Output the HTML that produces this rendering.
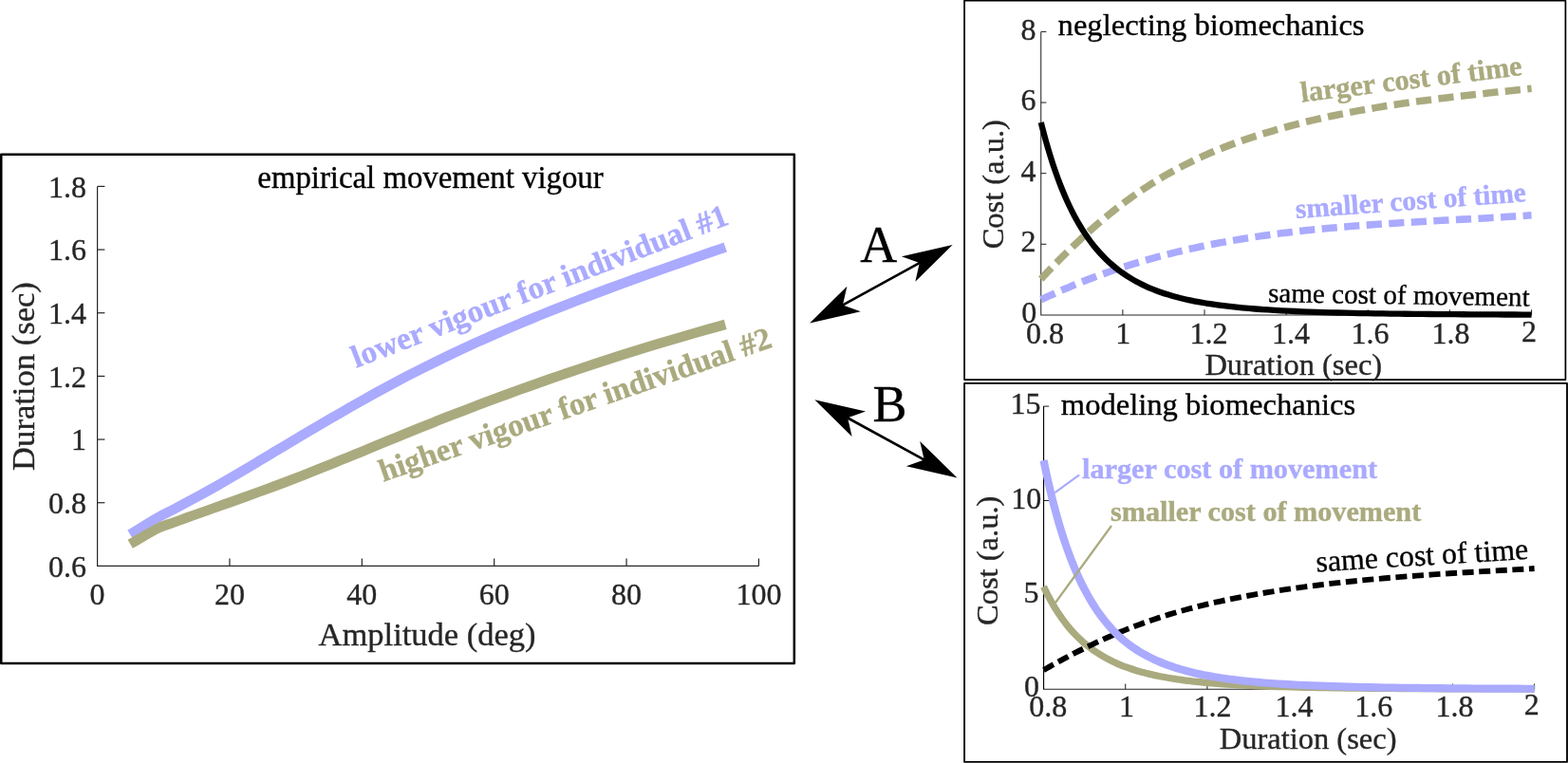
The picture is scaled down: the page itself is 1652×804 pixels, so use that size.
<!DOCTYPE html>
<html lang="en"><head><meta charset="utf-8"><title>Movement vigour and cost of time</title>
<style>
html,body{margin:0;padding:0;background:#fff;}
body{width:1652px;height:804px;overflow:hidden;}
svg{display:block;font-family:"Liberation Serif","DejaVu Serif",serif;}
svg text{white-space:pre;}
</style></head>
<body>
<svg width="1652" height="804" viewBox="0 0 1652 804">
<rect width="1652" height="804" fill="#fff"/>
<rect x="1.25" y="162.8" width="835.55" height="536.20" fill="none" stroke="#000" stroke-width="2.5" stroke-linejoin="round"/>
<rect x="1016.05" y="0.7" width="633.35" height="399.40" fill="none" stroke="#000" stroke-width="1.75" stroke-linejoin="round"/>
<rect x="1016.05" y="403.9" width="634.95" height="399.00" fill="none" stroke="#000" stroke-width="1.85" stroke-linejoin="round"/>
<path d="M102.6,196.4 L102.6,596.4 L799.4,596.4" fill="none" stroke="#262626" stroke-width="1.2"/>
<text x="102.6" y="637.4" font-size="32" text-anchor="middle" font-weight="normal" fill="#262626" stroke="#262626" stroke-width="0.35">0</text>
<path d="M241.96,596.4 L241.96,588.6" stroke="#262626" stroke-width="1.2"/>
<text x="241.96" y="637.4" font-size="32" text-anchor="middle" font-weight="normal" fill="#262626" stroke="#262626" stroke-width="0.35">20</text>
<path d="M381.32,596.4 L381.32,588.6" stroke="#262626" stroke-width="1.2"/>
<text x="381.32" y="637.4" font-size="32" text-anchor="middle" font-weight="normal" fill="#262626" stroke="#262626" stroke-width="0.35">40</text>
<path d="M520.68,596.4 L520.68,588.6" stroke="#262626" stroke-width="1.2"/>
<text x="520.68" y="637.4" font-size="32" text-anchor="middle" font-weight="normal" fill="#262626" stroke="#262626" stroke-width="0.35">60</text>
<path d="M660.04,596.4 L660.04,588.6" stroke="#262626" stroke-width="1.2"/>
<text x="660.04" y="637.4" font-size="32" text-anchor="middle" font-weight="normal" fill="#262626" stroke="#262626" stroke-width="0.35">80</text>
<path d="M799.40,596.4 L799.40,588.6" stroke="#262626" stroke-width="1.2"/>
<text x="799.4" y="637.4" font-size="32" text-anchor="middle" font-weight="normal" fill="#262626" stroke="#262626" stroke-width="0.35">100</text>
<text x="91" y="607.6" font-size="32" text-anchor="end" font-weight="normal" fill="#262626" stroke="#262626" stroke-width="0.35">0.6</text>
<path d="M102.6,529.73 L110.39999999999999,529.73" stroke="#262626" stroke-width="1.2"/>
<text x="91" y="540.93" font-size="32" text-anchor="end" font-weight="normal" fill="#262626" stroke="#262626" stroke-width="0.35">0.8</text>
<path d="M102.6,463.07 L110.39999999999999,463.07" stroke="#262626" stroke-width="1.2"/>
<text x="91" y="474.27" font-size="32" text-anchor="end" font-weight="normal" fill="#262626" stroke="#262626" stroke-width="0.35">1</text>
<path d="M102.6,396.40 L110.39999999999999,396.40" stroke="#262626" stroke-width="1.2"/>
<text x="91" y="407.6" font-size="32" text-anchor="end" font-weight="normal" fill="#262626" stroke="#262626" stroke-width="0.35">1.2</text>
<path d="M102.6,329.73 L110.39999999999999,329.73" stroke="#262626" stroke-width="1.2"/>
<text x="91" y="340.93" font-size="32" text-anchor="end" font-weight="normal" fill="#262626" stroke="#262626" stroke-width="0.35">1.4</text>
<path d="M102.6,263.07 L110.39999999999999,263.07" stroke="#262626" stroke-width="1.2"/>
<text x="91" y="274.27" font-size="32" text-anchor="end" font-weight="normal" fill="#262626" stroke="#262626" stroke-width="0.35">1.6</text>
<path d="M102.6,196.40 L110.39999999999999,196.40" stroke="#262626" stroke-width="1.2"/>
<text x="91" y="207.6" font-size="32" text-anchor="end" font-weight="normal" fill="#262626" stroke="#262626" stroke-width="0.35">1.8</text>
<text x="450.1" y="680" font-size="34.5" text-anchor="middle" font-weight="normal" fill="#262626" stroke="#262626" stroke-width="0.35">Amplitude (deg)</text>
<text x="36" y="396.5" font-size="34.6" text-anchor="middle" font-weight="normal" fill="#262626" stroke="#262626" stroke-width="0.35" transform="rotate(-90 36 396.5)">Duration (sec)</text>
<text x="453.5" y="198" font-size="32.8" text-anchor="middle" font-weight="normal" fill="#000" stroke="#000" stroke-width="0.35">empirical movement vigour</text>
<path d="M137.00,563.10C146.67,557.24 158.61,549.78 166.00,545.53C173.39,541.27 176.23,540.25 181.34,537.57C186.45,534.89 191.56,532.18 196.68,529.43C201.79,526.69 206.90,523.92 212.02,521.11C217.13,518.30 222.24,515.45 227.35,512.57C232.47,509.69 237.58,506.77 242.69,503.81C247.81,500.85 252.92,497.84 258.03,494.81C263.14,491.78 268.26,488.70 273.37,485.62C278.48,482.55 283.59,479.44 288.71,476.36C293.82,473.28 298.93,470.19 304.05,467.13C309.16,464.07 314.27,461.03 319.38,458.00C324.50,454.98 329.61,451.97 334.72,448.98C339.84,445.98 344.95,443.01 350.06,440.04C355.17,437.08 360.29,434.12 365.40,431.19C370.51,428.26 375.63,425.34 380.74,422.47C385.85,419.59 390.96,416.73 396.08,413.91C401.19,411.10 406.30,408.32 411.42,405.58C416.53,402.84 421.64,400.14 426.75,397.48C431.87,394.82 436.98,392.20 442.09,389.61C447.21,387.02 452.32,384.47 457.43,381.96C462.54,379.44 467.66,376.97 472.77,374.52C477.88,372.08 482.99,369.67 488.11,367.29C493.22,364.91 498.33,362.57 503.45,360.25C508.56,357.94 513.67,355.66 518.78,353.40C523.90,351.15 529.01,348.92 534.12,346.73C539.24,344.53 544.35,342.36 549.46,340.21C554.57,338.07 559.69,335.95 564.80,333.85C569.91,331.76 575.03,329.69 580.14,327.64C585.25,325.59 590.36,323.56 595.48,321.56C600.59,319.55 605.70,317.56 610.82,315.60C615.93,313.63 621.04,311.68 626.15,309.75C631.27,307.82 636.38,305.91 641.49,304.01C646.61,302.11 651.72,300.23 656.83,298.36C661.94,296.49 667.06,294.63 672.17,292.79C677.28,290.94 682.39,289.11 687.51,287.29C692.62,285.47 697.73,283.66 702.85,281.86C707.96,280.05 713.07,278.26 718.18,276.47C723.30,274.69 728.41,272.91 733.52,271.13C738.64,269.36 743.75,267.59 748.86,265.82C753.97,264.06 759.09,262.30 764.20,260.53" fill="none" stroke="#aaaaff" stroke-width="10.5" stroke-linejoin="round"/>
<path d="M137.20,573.30C146.80,567.82 158.64,560.56 166.00,556.87C173.36,553.18 176.23,553.03 181.34,551.15C186.45,549.26 191.56,547.41 196.68,545.56C201.79,543.72 206.90,541.90 212.02,540.07C217.13,538.25 222.24,536.45 227.35,534.63C232.47,532.82 237.58,531.02 242.69,529.20C247.81,527.38 252.92,525.56 258.03,523.72C263.14,521.89 268.26,520.04 273.37,518.17C278.48,516.30 283.59,514.42 288.71,512.51C293.82,510.61 298.93,508.68 304.05,506.72C309.16,504.76 314.27,502.78 319.38,500.78C324.50,498.78 329.61,496.75 334.72,494.71C339.84,492.67 344.95,490.61 350.06,488.54C355.17,486.48 360.29,484.39 365.40,482.31C370.51,480.22 375.63,478.12 380.74,476.02C385.85,473.92 390.96,471.81 396.08,469.71C401.19,467.61 406.30,465.50 411.42,463.40C416.53,461.31 421.64,459.21 426.75,457.13C431.87,455.05 436.98,452.97 442.09,450.91C447.21,448.85 452.32,446.80 457.43,444.77C462.54,442.74 467.66,440.73 472.77,438.73C477.88,436.73 482.99,434.75 488.11,432.78C493.22,430.81 498.33,428.86 503.45,426.93C508.56,424.99 513.67,423.07 518.78,421.17C523.90,419.26 529.01,417.37 534.12,415.50C539.24,413.63 544.35,411.77 549.46,409.93C554.57,408.09 559.69,406.27 564.80,404.46C569.91,402.65 575.03,400.86 580.14,399.08C585.25,397.30 590.36,395.54 595.48,393.79C600.59,392.05 605.70,390.32 610.82,388.60C615.93,386.89 621.04,385.19 626.15,383.51C631.27,381.82 636.38,380.16 641.49,378.51C646.61,376.85 651.72,375.22 656.83,373.60C661.94,371.98 667.06,370.38 672.17,368.79C677.28,367.20 682.39,365.63 687.51,364.07C692.62,362.51 697.73,360.97 702.85,359.45C707.96,357.92 713.07,356.41 718.18,354.92C723.30,353.43 728.41,351.95 733.52,350.49C738.64,349.03 743.75,347.58 748.86,346.15C753.97,344.72 759.09,343.32 764.20,341.91" fill="none" stroke="#aaaa7f" stroke-width="10.5" stroke-linejoin="round"/>
<text x="375.3" y="387.8" font-size="33.2" text-anchor="start" font-weight="bold" fill="#aaaaff" stroke="#aaaaff" stroke-width="0.4" transform="rotate(-21.1 375.3 387.8)">lower vigour for individual #1</text>
<text x="403.7" y="507.8" font-size="33.2" text-anchor="start" font-weight="bold" fill="#aaaa7f" stroke="#aaaa7f" stroke-width="0.4" transform="rotate(-19.1 403.7 507.8)">higher vigour for individual #2</text>
<path d="M884.43,323.33 L972.27,275.17" stroke="#000" stroke-width="2.7"/>
<path d="M1003.60,258.00 L964.34,296.63 L968.79,277.08 L949.91,270.32 Z" fill="#000"/>
<path d="M853.10,340.50 L906.79,328.18 L887.91,321.42 L892.36,301.87 Z" fill="#000"/>
<path d="M889.64,438.45 L977.16,486.35" stroke="#000" stroke-width="2.7"/>
<path d="M1008.50,503.50 L954.81,491.21 L973.67,484.44 L969.21,464.90 Z" fill="#000"/>
<path d="M858.30,421.30 L897.59,459.90 L893.13,440.36 L911.99,433.59 Z" fill="#000"/>
<text x="925.7" y="276.1" font-size="54" text-anchor="middle" font-weight="normal" fill="#000" stroke="#000" stroke-width="0.35">A</text>
<text x="937.5" y="444.3" font-size="54" text-anchor="middle" font-weight="normal" fill="#000" stroke="#000" stroke-width="0.35">B</text>
<path d="M1096.75,33.4 L1096.75,331.95 L1613.55,331.95" fill="none" stroke="#262626" stroke-width="1.05"/>
<text x="1101.1" y="361.7" font-size="32" text-anchor="middle" font-weight="normal" fill="#262626" stroke="#262626" stroke-width="0.35">0.8</text>
<path d="M1182.88,331.95 L1182.88,326.34999999999997" stroke="#262626" stroke-width="1.05"/>
<text x="1183.2" y="361.7" font-size="32" text-anchor="middle" font-weight="normal" fill="#262626" stroke="#262626" stroke-width="0.35">1</text>
<path d="M1269.02,331.95 L1269.02,326.34999999999997" stroke="#262626" stroke-width="1.05"/>
<text x="1273.4" y="361.7" font-size="32" text-anchor="middle" font-weight="normal" fill="#262626" stroke="#262626" stroke-width="0.35">1.2</text>
<path d="M1355.15,331.95 L1355.15,326.34999999999997" stroke="#262626" stroke-width="1.05"/>
<text x="1360.0" y="361.7" font-size="32" text-anchor="middle" font-weight="normal" fill="#262626" stroke="#262626" stroke-width="0.35">1.4</text>
<path d="M1441.28,331.95 L1441.28,326.34999999999997" stroke="#262626" stroke-width="1.05"/>
<text x="1443.4" y="361.7" font-size="32" text-anchor="middle" font-weight="normal" fill="#262626" stroke="#262626" stroke-width="0.35">1.6</text>
<path d="M1527.42,331.95 L1527.42,326.34999999999997" stroke="#262626" stroke-width="1.05"/>
<text x="1528.6" y="361.7" font-size="32" text-anchor="middle" font-weight="normal" fill="#262626" stroke="#262626" stroke-width="0.35">1.8</text>
<path d="M1613.55,331.95 L1613.55,326.34999999999997" stroke="#262626" stroke-width="1.05"/>
<text x="1611.1" y="359.7" font-size="32" text-anchor="middle" font-weight="normal" fill="#262626" stroke="#262626" stroke-width="0.35">2</text>
<text x="1092.35" y="340.05" font-size="32" text-anchor="end" font-weight="normal" fill="#262626" stroke="#262626" stroke-width="0.35">0</text>
<path d="M1096.75,257.31 L1102.35,257.31" stroke="#262626" stroke-width="1.05"/>
<text x="1091.6" y="265.41" font-size="32" text-anchor="end" font-weight="normal" fill="#262626" stroke="#262626" stroke-width="0.35">2</text>
<path d="M1096.75,182.67 L1102.35,182.67" stroke="#262626" stroke-width="1.05"/>
<text x="1091.6" y="190.77" font-size="32" text-anchor="end" font-weight="normal" fill="#262626" stroke="#262626" stroke-width="0.35">4</text>
<path d="M1096.75,108.04 L1102.35,108.04" stroke="#262626" stroke-width="1.05"/>
<text x="1091.6" y="116.14" font-size="32" text-anchor="end" font-weight="normal" fill="#262626" stroke="#262626" stroke-width="0.35">6</text>
<path d="M1096.75,33.40 L1102.35,33.40" stroke="#262626" stroke-width="1.05"/>
<text x="1091.6" y="41.5" font-size="32" text-anchor="end" font-weight="normal" fill="#262626" stroke="#262626" stroke-width="0.35">8</text>
<text x="1114.6" y="36.7" font-size="32.6" text-anchor="start" font-weight="normal" fill="#000" stroke="#000" stroke-width="0.35">neglecting biomechanics</text>
<text x="1362.8" y="395.3" font-size="32.5" text-anchor="middle" font-weight="normal" fill="#262626" stroke="#262626" stroke-width="0.35">Duration (sec)</text>
<text x="1057.4" y="194.2" font-size="32.5" text-anchor="middle" font-weight="normal" fill="#262626" stroke="#262626" stroke-width="0.35" transform="rotate(-90 1057.4 194.2)">Cost (a.u.)</text>
<path d="M1096.75,294.11C1096.88,293.97 1096.94,293.90 1097.14,293.69C1097.34,293.47 1097.63,293.16 1097.94,292.82C1098.26,292.48 1098.63,292.08 1099.03,291.65C1099.43,291.21 1099.88,290.73 1100.36,290.22C1100.84,289.70 1101.36,289.14 1101.91,288.56C1102.46,287.97 1103.04,287.35 1103.66,286.70C1104.27,286.05 1104.92,285.36 1105.59,284.66C1106.26,283.95 1106.97,283.21 1107.70,282.45C1108.42,281.68 1109.18,280.89 1109.97,280.08C1110.75,279.27 1111.56,278.44 1112.39,277.58C1113.23,276.72 1114.09,275.84 1114.97,274.94C1115.85,274.05 1116.76,273.13 1117.69,272.19C1118.62,271.25 1119.58,270.30 1120.55,269.32C1121.53,268.35 1122.53,267.36 1123.55,266.36C1124.57,265.35 1125.61,264.33 1126.68,263.29C1127.74,262.26 1128.83,261.21 1129.93,260.15C1131.04,259.09 1132.16,258.01 1133.31,256.92C1134.46,255.84 1135.63,254.74 1136.81,253.63C1138.00,252.52 1139.21,251.40 1140.43,250.28C1141.66,249.15 1142.90,248.01 1144.17,246.87C1145.43,245.72 1146.72,244.57 1148.02,243.41C1149.32,242.25 1150.64,241.08 1151.98,239.91C1153.32,238.74 1154.68,237.56 1156.05,236.38C1157.43,235.20 1158.82,234.01 1160.23,232.82C1161.64,231.64 1163.07,230.44 1164.51,229.25C1165.96,228.05 1167.42,226.86 1168.90,225.66C1170.38,224.46 1171.88,223.26 1173.39,222.07C1174.91,220.87 1176.44,219.67 1177.99,218.47C1179.53,217.28 1181.10,216.08 1182.68,214.89C1184.26,213.69 1185.86,212.50 1187.47,211.32C1189.08,210.13 1190.71,208.94 1192.35,207.77C1194.00,206.59 1195.66,205.41 1197.34,204.24C1199.01,203.08 1200.70,201.91 1202.41,200.76C1204.12,199.60 1205.84,198.45 1207.58,197.31C1209.32,196.17 1211.07,195.04 1212.84,193.91C1214.61,192.79 1216.40,191.67 1218.20,190.57C1219.99,189.46 1221.81,188.37 1223.64,187.28C1225.47,186.19 1227.31,185.11 1229.17,184.05C1231.03,182.98 1232.90,181.92 1234.79,180.88C1236.68,179.83 1238.58,178.80 1240.50,177.77C1242.41,176.75 1244.34,175.73 1246.29,174.73C1248.23,173.73 1250.19,172.74 1252.17,171.76C1254.14,170.78 1256.13,169.81 1258.13,168.85C1260.13,167.90 1262.15,166.95 1264.18,166.02C1266.21,165.08 1268.25,164.16 1270.31,163.25C1272.36,162.34 1274.43,161.44 1276.52,160.56C1278.60,159.67 1280.70,158.79 1282.81,157.93C1284.92,157.07 1287.05,156.21 1289.19,155.37C1291.32,154.53 1293.47,153.70 1295.64,152.89C1297.80,152.07 1299.98,151.26 1302.17,150.47C1304.36,149.67 1306.57,148.89 1308.79,148.11C1311.00,147.34 1313.23,146.57 1315.48,145.82C1317.72,145.07 1319.98,144.32 1322.25,143.59C1324.52,142.86 1326.80,142.13 1329.09,141.42C1331.39,140.70 1333.69,140.00 1336.01,139.30C1338.33,138.60 1340.67,137.92 1343.01,137.24C1345.36,136.56 1347.72,135.88 1350.09,135.22C1352.46,134.56 1354.84,133.90 1357.24,133.26C1359.63,132.61 1362.04,131.97 1364.46,131.35C1366.88,130.72 1369.31,130.10 1371.75,129.48C1374.20,128.87 1376.66,128.27 1379.12,127.67C1381.59,127.08 1384.07,126.49 1386.57,125.92C1389.06,125.34 1391.57,124.77 1394.08,124.21C1396.60,123.65 1399.13,123.10 1401.67,122.55C1404.21,122.01 1406.76,121.47 1409.33,120.94C1411.89,120.42 1414.47,119.90 1417.06,119.39C1419.65,118.87 1422.25,118.37 1424.86,117.88C1427.47,117.38 1430.09,116.89 1432.73,116.41C1435.36,115.94 1438.01,115.46 1440.67,115.00C1443.33,114.53 1446.00,114.08 1448.68,113.63C1451.36,113.18 1454.05,112.74 1456.76,112.30C1459.46,111.87 1462.18,111.44 1464.90,111.02C1467.63,110.59 1470.37,110.18 1473.12,109.77C1475.87,109.36 1478.63,108.96 1481.40,108.56C1484.18,108.17 1486.96,107.78 1489.75,107.39C1492.55,107.01 1495.35,106.63 1498.17,106.25C1500.99,105.88 1503.82,105.51 1506.66,105.15C1509.49,104.78 1512.34,104.43 1515.21,104.07C1518.07,103.72 1520.94,103.37 1523.82,103.02C1526.71,102.67 1529.60,102.33 1532.51,101.99C1535.41,101.65 1538.33,101.32 1541.25,100.98C1544.18,100.65 1547.12,100.32 1550.07,99.99C1553.01,99.67 1555.97,99.34 1558.94,99.02C1561.91,98.69 1564.89,98.37 1567.88,98.05C1570.88,97.73 1573.88,97.41 1576.89,97.09C1579.90,96.77 1582.93,96.45 1585.96,96.13C1588.99,95.81 1592.04,95.49 1595.09,95.16C1598.15,94.84 1601.21,94.52 1604.29,94.19C1607.37,93.87 1610.46,93.54 1613.55,93.21" fill="none" stroke="#aaaa7f" stroke-width="7.55" stroke-dasharray="16.2 7.4"/>
<path d="M1096.75,315.80C1096.88,315.74 1096.94,315.71 1097.14,315.62C1097.34,315.52 1097.63,315.39 1097.94,315.24C1098.26,315.09 1098.63,314.91 1099.03,314.72C1099.43,314.53 1099.88,314.32 1100.36,314.10C1100.84,313.87 1101.36,313.63 1101.91,313.37C1102.46,313.12 1103.04,312.84 1103.66,312.56C1104.27,312.28 1104.92,311.98 1105.59,311.67C1106.26,311.36 1106.97,311.04 1107.70,310.71C1108.42,310.38 1109.18,310.03 1109.97,309.68C1110.75,309.33 1111.56,308.96 1112.39,308.59C1113.23,308.22 1114.09,307.84 1114.97,307.45C1115.85,307.06 1116.76,306.66 1117.69,306.26C1118.62,305.85 1119.58,305.44 1120.55,305.02C1121.53,304.60 1122.53,304.17 1123.55,303.74C1124.57,303.30 1125.61,302.86 1126.68,302.42C1127.74,301.97 1128.83,301.52 1129.93,301.06C1131.04,300.60 1132.16,300.14 1133.31,299.67C1134.46,299.21 1135.63,298.73 1136.81,298.26C1138.00,297.78 1139.21,297.30 1140.43,296.82C1141.66,296.33 1142.90,295.85 1144.17,295.36C1145.43,294.87 1146.72,294.37 1148.02,293.88C1149.32,293.38 1150.64,292.88 1151.98,292.38C1153.32,291.88 1154.68,291.37 1156.05,290.87C1157.43,290.36 1158.82,289.86 1160.23,289.35C1161.64,288.84 1163.07,288.33 1164.51,287.82C1165.96,287.31 1167.42,286.80 1168.90,286.28C1170.38,285.77 1171.88,285.26 1173.39,284.75C1174.91,284.23 1176.44,283.72 1177.99,283.21C1179.53,282.69 1181.10,282.18 1182.68,281.67C1184.26,281.16 1185.86,280.65 1187.47,280.13C1189.08,279.62 1190.71,279.11 1192.35,278.61C1194.00,278.10 1195.66,277.59 1197.34,277.09C1199.01,276.58 1200.70,276.08 1202.41,275.57C1204.12,275.07 1205.84,274.57 1207.58,274.07C1209.32,273.58 1211.07,273.08 1212.84,272.59C1214.61,272.10 1216.40,271.60 1218.20,271.12C1219.99,270.63 1221.81,270.14 1223.64,269.66C1225.47,269.18 1227.31,268.70 1229.17,268.22C1231.03,267.75 1232.90,267.28 1234.79,266.81C1236.68,266.34 1238.58,265.87 1240.50,265.41C1242.41,264.95 1244.34,264.49 1246.29,264.04C1248.23,263.58 1250.19,263.13 1252.17,262.69C1254.14,262.24 1256.13,261.80 1258.13,261.36C1260.13,260.92 1262.15,260.49 1264.18,260.06C1266.21,259.63 1268.25,259.21 1270.31,258.79C1272.36,258.37 1274.43,257.95 1276.52,257.54C1278.60,257.13 1280.70,256.72 1282.81,256.32C1284.92,255.92 1287.05,255.53 1289.19,255.14C1291.32,254.74 1293.47,254.36 1295.64,253.98C1297.80,253.60 1299.98,253.22 1302.17,252.85C1304.36,252.48 1306.57,252.11 1308.79,251.75C1311.00,251.39 1313.23,251.03 1315.48,250.68C1317.72,250.33 1319.98,249.99 1322.25,249.65C1324.52,249.31 1326.80,248.97 1329.09,248.64C1331.39,248.31 1333.69,247.99 1336.01,247.67C1338.33,247.35 1340.67,247.04 1343.01,246.73C1345.36,246.42 1347.72,246.11 1350.09,245.82C1352.46,245.52 1354.84,245.22 1357.24,244.94C1359.63,244.65 1362.04,244.36 1364.46,244.09C1366.88,243.81 1369.31,243.53 1371.75,243.27C1374.20,243.00 1376.66,242.73 1379.12,242.48C1381.59,242.22 1384.07,241.96 1386.57,241.71C1389.06,241.47 1391.57,241.22 1394.08,240.98C1396.60,240.74 1399.13,240.51 1401.67,240.28C1404.21,240.04 1406.76,239.82 1409.33,239.60C1411.89,239.37 1414.47,239.16 1417.06,238.94C1419.65,238.73 1422.25,238.52 1424.86,238.31C1427.47,238.11 1430.09,237.91 1432.73,237.71C1435.36,237.51 1438.01,237.31 1440.67,237.12C1443.33,236.93 1446.00,236.74 1448.68,236.56C1451.36,236.37 1454.05,236.19 1456.76,236.01C1459.46,235.83 1462.18,235.66 1464.90,235.48C1467.63,235.31 1470.37,235.14 1473.12,234.97C1475.87,234.80 1478.63,234.64 1481.40,234.47C1484.18,234.31 1486.96,234.14 1489.75,233.98C1492.55,233.82 1495.35,233.66 1498.17,233.50C1500.99,233.34 1503.82,233.18 1506.66,233.03C1509.49,232.87 1512.34,232.71 1515.21,232.56C1518.07,232.40 1520.94,232.24 1523.82,232.09C1526.71,231.93 1529.60,231.77 1532.51,231.62C1535.41,231.46 1538.33,231.30 1541.25,231.14C1544.18,230.98 1547.12,230.82 1550.07,230.66C1553.01,230.50 1555.97,230.34 1558.94,230.17C1561.91,230.01 1564.89,229.84 1567.88,229.67C1570.88,229.50 1573.88,229.32 1576.89,229.15C1579.90,228.97 1582.93,228.79 1585.96,228.60C1588.99,228.42 1592.04,228.23 1595.09,228.04C1598.15,227.85 1601.21,227.65 1604.29,227.45C1607.37,227.24 1610.46,227.03 1613.55,226.82" fill="none" stroke="#aaaaff" stroke-width="7.55" stroke-dasharray="16.2 7.4"/>
<path d="M1096.75,128.95C1096.88,129.48 1096.94,129.74 1097.14,130.52C1097.34,131.31 1097.63,132.45 1097.94,133.68C1098.26,134.90 1098.63,136.34 1099.03,137.88C1099.43,139.41 1099.88,141.11 1100.36,142.89C1100.84,144.66 1101.36,146.57 1101.91,148.53C1102.46,150.49 1103.04,152.56 1103.66,154.67C1104.27,156.77 1104.92,158.96 1105.59,161.18C1106.26,163.39 1106.97,165.67 1107.70,167.96C1108.42,170.26 1109.18,172.59 1109.97,174.94C1110.75,177.28 1111.56,179.65 1112.39,182.02C1113.23,184.39 1114.09,186.77 1114.97,189.14C1115.85,191.51 1116.76,193.89 1117.69,196.25C1118.62,198.60 1119.58,200.96 1120.55,203.28C1121.53,205.61 1122.53,207.93 1123.55,210.21C1124.57,212.49 1125.61,214.76 1126.68,216.99C1127.74,219.22 1128.83,221.42 1129.93,223.59C1131.04,225.76 1132.16,227.89 1133.31,229.99C1134.46,232.08 1135.63,234.15 1136.81,236.16C1138.00,238.18 1139.21,240.17 1140.43,242.11C1141.66,244.04 1142.90,245.94 1144.17,247.80C1145.43,249.65 1146.72,251.47 1148.02,253.24C1149.32,255.01 1150.64,256.74 1151.98,258.42C1153.32,260.10 1154.68,261.74 1156.05,263.34C1157.43,264.94 1158.82,266.49 1160.23,268.01C1161.64,269.52 1163.07,270.99 1164.51,272.41C1165.96,273.84 1167.42,275.23 1168.90,276.57C1170.38,277.92 1171.88,279.22 1173.39,280.49C1174.91,281.76 1176.44,282.98 1177.99,284.17C1179.53,285.36 1181.10,286.51 1182.68,287.62C1184.26,288.74 1185.86,289.81 1187.47,290.86C1189.08,291.90 1190.71,292.91 1192.35,293.88C1194.00,294.85 1195.66,295.79 1197.34,296.70C1199.01,297.61 1200.70,298.49 1202.41,299.34C1204.12,300.18 1205.84,301.00 1207.58,301.79C1209.32,302.58 1211.07,303.34 1212.84,304.07C1214.61,304.81 1216.40,305.51 1218.20,306.19C1219.99,306.88 1221.81,307.53 1223.64,308.16C1225.47,308.80 1227.31,309.40 1229.17,309.99C1231.03,310.58 1232.90,311.14 1234.79,311.68C1236.68,312.23 1238.58,312.75 1240.50,313.25C1242.41,313.76 1244.34,314.24 1246.29,314.71C1248.23,315.17 1250.19,315.62 1252.17,316.05C1254.14,316.48 1256.13,316.89 1258.13,317.29C1260.13,317.69 1262.15,318.07 1264.18,318.44C1266.21,318.81 1268.25,319.16 1270.31,319.50C1272.36,319.84 1274.43,320.16 1276.52,320.47C1278.60,320.79 1280.70,321.09 1282.81,321.38C1284.92,321.67 1287.05,321.94 1289.19,322.21C1291.32,322.47 1293.47,322.73 1295.64,322.97C1297.80,323.22 1299.98,323.46 1302.17,323.68C1304.36,323.91 1306.57,324.12 1308.79,324.33C1311.00,324.54 1313.23,324.74 1315.48,324.93C1317.72,325.13 1319.98,325.31 1322.25,325.49C1324.52,325.66 1326.80,325.83 1329.09,325.99C1331.39,326.16 1333.69,326.31 1336.01,326.46C1338.33,326.61 1340.67,326.76 1343.01,326.89C1345.36,327.03 1347.72,327.16 1350.09,327.29C1352.46,327.42 1354.84,327.54 1357.24,327.66C1359.63,327.77 1362.04,327.88 1364.46,327.99C1366.88,328.10 1369.31,328.20 1371.75,328.30C1374.20,328.40 1376.66,328.50 1379.12,328.59C1381.59,328.68 1384.07,328.76 1386.57,328.85C1389.06,328.93 1391.57,329.01 1394.08,329.09C1396.60,329.17 1399.13,329.24 1401.67,329.31C1404.21,329.38 1406.76,329.45 1409.33,329.52C1411.89,329.58 1414.47,329.64 1417.06,329.70C1419.65,329.76 1422.25,329.82 1424.86,329.88C1427.47,329.93 1430.09,329.99 1432.73,330.04C1435.36,330.09 1438.01,330.14 1440.67,330.18C1443.33,330.23 1446.00,330.28 1448.68,330.32C1451.36,330.36 1454.05,330.40 1456.76,330.44C1459.46,330.48 1462.18,330.52 1464.90,330.56C1467.63,330.59 1470.37,330.63 1473.12,330.66C1475.87,330.70 1478.63,330.73 1481.40,330.76C1484.18,330.79 1486.96,330.82 1489.75,330.85C1492.55,330.88 1495.35,330.91 1498.17,330.93C1500.99,330.96 1503.82,330.98 1506.66,331.01C1509.49,331.03 1512.34,331.06 1515.21,331.08C1518.07,331.10 1520.94,331.12 1523.82,331.14C1526.71,331.16 1529.60,331.18 1532.51,331.20C1535.41,331.22 1538.33,331.24 1541.25,331.26C1544.18,331.28 1547.12,331.29 1550.07,331.31C1553.01,331.33 1555.97,331.34 1558.94,331.36C1561.91,331.37 1564.89,331.39 1567.88,331.40C1570.88,331.41 1573.88,331.43 1576.89,331.44C1579.90,331.45 1582.93,331.47 1585.96,331.48C1588.99,331.49 1592.04,331.50 1595.09,331.51C1598.15,331.52 1601.21,331.53 1604.29,331.54C1607.37,331.55 1610.46,331.56 1613.55,331.57" fill="none" stroke="#000" stroke-width="6.3"/>
<text x="1371.6" y="107.5" font-size="30.35" text-anchor="start" font-weight="bold" fill="#aaaa7f" stroke="#aaaa7f" stroke-width="0.4" transform="rotate(-7 1371.6 107.5)">larger cost of time</text>
<text x="1365.5" y="230" font-size="29.4" text-anchor="start" font-weight="bold" fill="#aaaaff" stroke="#aaaaff" stroke-width="0.4" transform="rotate(-4.2 1365.5 230)">smaller cost of time</text>
<text x="1336" y="318.2" font-size="29.1" text-anchor="start" font-weight="normal" fill="#000" stroke="#000" stroke-width="0.35" transform="rotate(0.9 1336 318.2)">same cost of movement</text>
<path d="M1099.55,428.1 L1099.55,726.2 L1616.6,726.2" fill="none" stroke="#262626" stroke-width="1.05"/>
<path d="M1099.55,428.1 L1099.55,726.2" fill="none" stroke="#000" stroke-width="1.05"/>
<text x="1104.3" y="754.5" font-size="32" text-anchor="middle" font-weight="normal" fill="#262626" stroke="#262626" stroke-width="0.35">0.8</text>
<path d="M1185.72,726.2 L1185.72,720.6" stroke="#262626" stroke-width="1.05"/>
<text x="1186.9" y="754.5" font-size="32" text-anchor="middle" font-weight="normal" fill="#262626" stroke="#262626" stroke-width="0.35">1</text>
<path d="M1271.90,726.2 L1271.90,720.6" stroke="#262626" stroke-width="1.05"/>
<text x="1277.4" y="754.5" font-size="32" text-anchor="middle" font-weight="normal" fill="#262626" stroke="#262626" stroke-width="0.35">1.2</text>
<path d="M1358.07,726.2 L1358.07,720.6" stroke="#262626" stroke-width="1.05"/>
<text x="1363.5" y="754.5" font-size="32" text-anchor="middle" font-weight="normal" fill="#262626" stroke="#262626" stroke-width="0.35">1.4</text>
<path d="M1444.25,726.2 L1444.25,720.6" stroke="#262626" stroke-width="1.05"/>
<text x="1447.3" y="754.5" font-size="32" text-anchor="middle" font-weight="normal" fill="#262626" stroke="#262626" stroke-width="0.35">1.6</text>
<path d="M1530.42,726.2 L1530.42,720.6" stroke="#262626" stroke-width="1.05"/>
<text x="1532.6" y="754.5" font-size="32" text-anchor="middle" font-weight="normal" fill="#262626" stroke="#262626" stroke-width="0.35">1.8</text>
<path d="M1616.60,726.2 L1616.60,720.6" stroke="#262626" stroke-width="1.05"/>
<text x="1613.8" y="752.5" font-size="32" text-anchor="middle" font-weight="normal" fill="#262626" stroke="#262626" stroke-width="0.35">2</text>
<text x="1095.1" y="734.4" font-size="32" text-anchor="end" font-weight="normal" fill="#262626" stroke="#262626" stroke-width="0.35">0</text>
<path d="M1099.55,626.83 L1105.1499999999999,626.83" stroke="#262626" stroke-width="1.05"/>
<text x="1094.6" y="635.03" font-size="32" text-anchor="end" font-weight="normal" fill="#262626" stroke="#262626" stroke-width="0.35">5</text>
<path d="M1099.55,527.47 L1105.1499999999999,527.47" stroke="#262626" stroke-width="1.05"/>
<text x="1097.3" y="535.67" font-size="32" text-anchor="end" font-weight="normal" fill="#262626" stroke="#262626" stroke-width="0.35">10</text>
<path d="M1099.55,428.10 L1105.1499999999999,428.10" stroke="#262626" stroke-width="1.05"/>
<text x="1096.6" y="436.3" font-size="32" text-anchor="end" font-weight="normal" fill="#262626" stroke="#262626" stroke-width="0.35">15</text>
<text x="1117.8" y="437" font-size="32.6" text-anchor="start" font-weight="normal" fill="#000" stroke="#000" stroke-width="0.35">modeling biomechanics</text>
<text x="1378.1" y="788.8" font-size="32.5" text-anchor="middle" font-weight="normal" fill="#262626" stroke="#262626" stroke-width="0.35">Duration (sec)</text>
<text x="1051.4" y="590.8" font-size="32.5" text-anchor="middle" font-weight="normal" fill="#262626" stroke="#262626" stroke-width="0.35" transform="rotate(-90 1051.4 590.8)">Cost (a.u.)</text>
<path d="M1099.55,618.10C1099.68,618.38 1099.74,618.52 1099.94,618.93C1100.14,619.35 1100.43,619.96 1100.74,620.61C1101.06,621.27 1101.43,622.03 1101.83,622.85C1102.23,623.67 1102.68,624.57 1103.16,625.52C1103.64,626.47 1104.16,627.48 1104.71,628.52C1105.26,629.57 1105.85,630.67 1106.46,631.79C1107.07,632.91 1107.72,634.08 1108.39,635.26C1109.07,636.44 1109.77,637.65 1110.50,638.87C1111.23,640.09 1111.99,641.34 1112.77,642.59C1113.56,643.83 1114.37,645.10 1115.20,646.36C1116.03,647.62 1116.89,648.89 1117.78,650.15C1118.66,651.41 1119.57,652.68 1120.50,653.93C1121.43,655.19 1122.39,656.44 1123.36,657.68C1124.34,658.92 1125.34,660.15 1126.36,661.37C1127.38,662.59 1128.43,663.79 1129.49,664.98C1130.55,666.17 1131.64,667.34 1132.75,668.49C1133.85,669.65 1134.98,670.79 1136.13,671.90C1137.28,673.02 1138.44,674.12 1139.63,675.19C1140.82,676.27 1142.03,677.32 1143.25,678.36C1144.48,679.39 1145.73,680.40 1146.99,681.39C1148.26,682.37 1149.54,683.34 1150.84,684.28C1152.15,685.23 1153.47,686.15 1154.81,687.04C1156.15,687.94 1157.50,688.81 1158.88,689.66C1160.26,690.51 1161.65,691.34 1163.06,692.15C1164.47,692.95 1165.90,693.74 1167.35,694.50C1168.79,695.26 1170.26,695.99 1171.74,696.71C1173.22,697.43 1174.72,698.12 1176.23,698.80C1177.75,699.47 1179.28,700.12 1180.83,700.76C1182.37,701.39 1183.94,702.00 1185.52,702.59C1187.10,703.19 1188.70,703.76 1190.31,704.32C1191.93,704.87 1193.55,705.41 1195.20,705.93C1196.85,706.45 1198.51,706.95 1200.18,707.43C1201.86,707.91 1203.56,708.38 1205.26,708.83C1206.97,709.28 1208.70,709.72 1210.44,710.14C1212.17,710.56 1213.93,710.96 1215.70,711.35C1217.47,711.75 1219.25,712.12 1221.05,712.48C1222.85,712.85 1224.67,713.20 1226.50,713.53C1228.33,713.87 1230.17,714.19 1232.03,714.51C1233.89,714.82 1235.77,715.12 1237.66,715.41C1239.54,715.70 1241.45,715.98 1243.37,716.24C1245.28,716.51 1247.21,716.77 1249.16,717.02C1251.11,717.26 1253.07,717.50 1255.04,717.73C1257.02,717.96 1259.00,718.18 1261.01,718.39C1263.01,718.61 1265.03,718.81 1267.06,719.00C1269.09,719.20 1271.13,719.39 1273.19,719.57C1275.25,719.75 1277.32,719.92 1279.40,720.09C1281.49,720.26 1283.59,720.42 1285.70,720.57C1287.81,720.72 1289.94,720.87 1292.08,721.01C1294.22,721.15 1296.37,721.29 1298.54,721.42C1300.70,721.55 1302.88,721.68 1305.07,721.80C1307.27,721.92 1309.47,722.03 1311.69,722.14C1313.91,722.25 1316.14,722.36 1318.38,722.46C1320.63,722.57 1322.89,722.66 1325.16,722.76C1327.43,722.85 1329.71,722.94 1332.00,723.03C1334.30,723.12 1336.61,723.20 1338.93,723.28C1341.25,723.36 1343.59,723.43 1345.93,723.51C1348.28,723.58 1350.64,723.65 1353.01,723.72C1355.38,723.79 1357.76,723.85 1360.16,723.91C1362.56,723.98 1364.97,724.04 1367.39,724.09C1369.81,724.15 1372.24,724.20 1374.69,724.26C1377.13,724.31 1379.59,724.36 1382.06,724.41C1384.53,724.46 1387.01,724.50 1389.51,724.55C1392.00,724.59 1394.51,724.64 1397.03,724.68C1399.55,724.72 1402.08,724.76 1404.62,724.80C1407.16,724.83 1409.71,724.87 1412.28,724.90C1414.85,724.94 1417.42,724.97 1420.01,725.00C1422.60,725.04 1425.20,725.07 1427.82,725.10C1430.43,725.13 1433.06,725.15 1435.69,725.18C1438.33,725.21 1440.98,725.23 1443.64,725.26C1446.30,725.28 1448.97,725.31 1451.65,725.33C1454.33,725.35 1457.03,725.38 1459.73,725.40C1462.44,725.42 1465.15,725.44 1467.88,725.46C1470.61,725.48 1473.35,725.50 1476.10,725.51C1478.85,725.53 1481.62,725.55 1484.39,725.57C1487.16,725.58 1489.95,725.60 1492.74,725.61C1495.54,725.63 1498.35,725.64 1501.17,725.66C1503.98,725.67 1506.81,725.69 1509.65,725.70C1512.49,725.71 1515.35,725.72 1518.21,725.74C1521.07,725.75 1523.94,725.76 1526.83,725.77C1529.71,725.78 1532.61,725.79 1535.52,725.80C1538.42,725.81 1541.34,725.82 1544.27,725.83C1547.20,725.84 1550.14,725.85 1553.08,725.86C1556.03,725.87 1559.00,725.88 1561.97,725.88C1564.94,725.89 1567.92,725.90 1570.91,725.91C1573.91,725.91 1576.91,725.92 1579.92,725.93C1582.94,725.94 1585.96,725.94 1589.00,725.95C1592.03,725.95 1595.08,725.96 1598.14,725.97C1601.19,725.97 1604.26,725.98 1607.34,725.98C1610.41,725.99 1613.51,725.99 1616.60,726.00" fill="none" stroke="#aaaa7f" stroke-width="7.3"/>
<path d="M1099.55,706.05C1099.68,705.98 1099.74,705.94 1099.94,705.82C1100.14,705.71 1100.43,705.54 1100.74,705.36C1101.06,705.18 1101.43,704.97 1101.83,704.74C1102.23,704.51 1102.68,704.25 1103.16,703.97C1103.64,703.70 1104.16,703.40 1104.71,703.09C1105.26,702.78 1105.85,702.45 1106.46,702.10C1107.07,701.76 1107.72,701.39 1108.39,701.01C1109.07,700.64 1109.77,700.24 1110.50,699.84C1111.23,699.43 1111.99,699.01 1112.77,698.58C1113.56,698.15 1114.37,697.70 1115.20,697.25C1116.03,696.79 1116.89,696.32 1117.78,695.84C1118.66,695.36 1119.57,694.87 1120.50,694.38C1121.43,693.88 1122.39,693.37 1123.36,692.85C1124.34,692.33 1125.34,691.80 1126.36,691.27C1127.38,690.73 1128.43,690.19 1129.49,689.64C1130.55,689.09 1131.64,688.53 1132.75,687.96C1133.85,687.40 1134.98,686.83 1136.13,686.25C1137.28,685.67 1138.44,685.08 1139.63,684.49C1140.82,683.90 1142.03,683.31 1143.25,682.71C1144.48,682.11 1145.73,681.50 1146.99,680.89C1148.26,680.28 1149.54,679.67 1150.84,679.05C1152.15,678.43 1153.47,677.81 1154.81,677.19C1156.15,676.56 1157.50,675.94 1158.88,675.31C1160.26,674.68 1161.65,674.05 1163.06,673.41C1164.47,672.78 1165.90,672.14 1167.35,671.51C1168.79,670.87 1170.26,670.23 1171.74,669.60C1173.22,668.96 1174.72,668.32 1176.23,667.68C1177.75,667.05 1179.28,666.41 1180.83,665.77C1182.37,665.13 1183.94,664.50 1185.52,663.86C1187.10,663.23 1188.70,662.59 1190.31,661.96C1191.93,661.33 1193.55,660.70 1195.20,660.07C1196.85,659.44 1198.51,658.82 1200.18,658.19C1201.86,657.57 1203.56,656.95 1205.26,656.34C1206.97,655.72 1208.70,655.11 1210.44,654.50C1212.17,653.89 1213.93,653.29 1215.70,652.69C1217.47,652.09 1219.25,651.50 1221.05,650.91C1222.85,650.32 1224.67,649.74 1226.50,649.16C1228.33,648.58 1230.17,648.01 1232.03,647.44C1233.89,646.87 1235.77,646.31 1237.66,645.75C1239.54,645.19 1241.45,644.64 1243.37,644.10C1245.28,643.55 1247.21,643.01 1249.16,642.48C1251.11,641.94 1253.07,641.41 1255.04,640.89C1257.02,640.37 1259.00,639.86 1261.01,639.35C1263.01,638.84 1265.03,638.33 1267.06,637.84C1269.09,637.34 1271.13,636.85 1273.19,636.36C1275.25,635.88 1277.32,635.40 1279.40,634.93C1281.49,634.46 1283.59,633.99 1285.70,633.53C1287.81,633.07 1289.94,632.62 1292.08,632.17C1294.22,631.72 1296.37,631.28 1298.54,630.84C1300.70,630.41 1302.88,629.98 1305.07,629.55C1307.27,629.13 1309.47,628.71 1311.69,628.30C1313.91,627.89 1316.14,627.48 1318.38,627.08C1320.63,626.68 1322.89,626.28 1325.16,625.89C1327.43,625.50 1329.71,625.12 1332.00,624.74C1334.30,624.36 1336.61,623.98 1338.93,623.61C1341.25,623.24 1343.59,622.87 1345.93,622.51C1348.28,622.15 1350.64,621.79 1353.01,621.44C1355.38,621.08 1357.76,620.73 1360.16,620.39C1362.56,620.05 1364.97,619.71 1367.39,619.37C1369.81,619.04 1372.24,618.71 1374.69,618.38C1377.13,618.06 1379.59,617.73 1382.06,617.42C1384.53,617.10 1387.01,616.79 1389.51,616.48C1392.00,616.17 1394.51,615.87 1397.03,615.57C1399.55,615.27 1402.08,614.98 1404.62,614.69C1407.16,614.40 1409.71,614.11 1412.28,613.83C1414.85,613.55 1417.42,613.28 1420.01,613.00C1422.60,612.73 1425.20,612.46 1427.82,612.20C1430.43,611.94 1433.06,611.68 1435.69,611.42C1438.33,611.17 1440.98,610.91 1443.64,610.67C1446.30,610.42 1448.97,610.18 1451.65,609.94C1454.33,609.70 1457.03,609.46 1459.73,609.23C1462.44,609.00 1465.15,608.77 1467.88,608.55C1470.61,608.32 1473.35,608.10 1476.10,607.88C1478.85,607.67 1481.62,607.45 1484.39,607.24C1487.16,607.03 1489.95,606.82 1492.74,606.62C1495.54,606.41 1498.35,606.21 1501.17,606.01C1503.98,605.81 1506.81,605.62 1509.65,605.42C1512.49,605.23 1515.35,605.04 1518.21,604.85C1521.07,604.66 1523.94,604.47 1526.83,604.29C1529.71,604.10 1532.61,603.92 1535.52,603.74C1538.42,603.56 1541.34,603.38 1544.27,603.20C1547.20,603.03 1550.14,602.85 1553.08,602.68C1556.03,602.50 1559.00,602.33 1561.97,602.16C1564.94,601.98 1567.92,601.81 1570.91,601.64C1573.91,601.47 1576.91,601.30 1579.92,601.13C1582.94,600.96 1585.96,600.79 1589.00,600.62C1592.03,600.45 1595.08,600.28 1598.14,600.10C1601.19,599.93 1604.26,599.76 1607.34,599.59C1610.41,599.42 1613.51,599.24 1616.60,599.07" fill="none" stroke="#000" stroke-width="5.9" stroke-dasharray="12 5.6"/>
<path d="M1099.55,485.13C1099.68,485.77 1099.74,486.09 1099.94,487.05C1100.14,488.02 1100.43,489.41 1100.74,490.90C1101.06,492.40 1101.43,494.16 1101.83,496.04C1102.23,497.91 1102.68,499.99 1103.16,502.15C1103.64,504.32 1104.16,506.64 1104.71,509.04C1105.26,511.43 1105.85,513.95 1106.46,516.51C1107.07,519.08 1107.72,521.75 1108.39,524.44C1109.07,527.14 1109.77,529.91 1110.50,532.70C1111.23,535.49 1111.99,538.33 1112.77,541.17C1113.56,544.02 1114.37,546.89 1115.20,549.77C1116.03,552.64 1116.89,555.53 1117.78,558.40C1118.66,561.27 1119.57,564.15 1120.50,567.01C1121.43,569.86 1122.39,572.70 1123.36,575.51C1124.34,578.33 1125.34,581.12 1126.36,583.88C1127.38,586.63 1128.43,589.36 1129.49,592.05C1130.55,594.74 1131.64,597.39 1132.75,600.00C1133.85,602.60 1134.98,605.17 1136.13,607.69C1137.28,610.20 1138.44,612.68 1139.63,615.10C1140.82,617.52 1142.03,619.89 1143.25,622.21C1144.48,624.53 1145.73,626.80 1146.99,629.02C1148.26,631.23 1149.54,633.40 1150.84,635.51C1152.15,637.62 1153.47,639.68 1154.81,641.68C1156.15,643.68 1157.50,645.63 1158.88,647.53C1160.26,649.43 1161.65,651.27 1163.06,653.06C1164.47,654.85 1165.90,656.59 1167.35,658.28C1168.79,659.97 1170.26,661.61 1171.74,663.19C1173.22,664.78 1174.72,666.32 1176.23,667.81C1177.75,669.30 1179.28,670.74 1180.83,672.14C1182.37,673.53 1183.94,674.90 1185.52,676.19C1187.10,677.47 1188.70,678.66 1190.31,679.84C1191.93,681.02 1193.55,682.15 1195.20,683.25C1196.85,684.35 1198.51,685.41 1200.18,686.44C1201.86,687.46 1203.56,688.45 1205.26,689.41C1206.97,690.36 1208.70,691.28 1210.44,692.17C1212.17,693.06 1213.93,693.92 1215.70,694.75C1217.47,695.58 1219.25,696.37 1221.05,697.14C1222.85,697.91 1224.67,698.65 1226.50,699.36C1228.33,700.08 1230.17,700.76 1232.03,701.43C1233.89,702.09 1235.77,702.72 1237.66,703.34C1239.54,703.95 1241.45,704.54 1243.37,705.11C1245.28,705.68 1247.21,706.22 1249.16,706.75C1251.11,707.27 1253.07,707.77 1255.04,708.26C1257.02,708.75 1259.00,709.21 1261.01,709.66C1263.01,710.11 1265.03,710.54 1267.06,710.96C1269.09,711.37 1271.13,711.77 1273.19,712.15C1275.25,712.53 1277.32,712.90 1279.40,713.25C1281.49,713.61 1283.59,713.95 1285.70,714.27C1287.81,714.60 1289.94,714.91 1292.08,715.21C1294.22,715.51 1296.37,715.80 1298.54,716.07C1300.70,716.35 1302.88,716.62 1305.07,716.87C1307.27,717.13 1309.47,717.37 1311.69,717.61C1313.91,717.84 1316.14,718.07 1318.38,718.28C1320.63,718.50 1322.89,718.71 1325.16,718.91C1327.43,719.11 1329.71,719.30 1332.00,719.48C1334.30,719.66 1336.61,719.84 1338.93,720.01C1341.25,720.18 1343.59,720.34 1345.93,720.50C1348.28,720.65 1350.64,720.80 1353.01,720.94C1355.38,721.09 1357.76,721.22 1360.16,721.36C1362.56,721.49 1364.97,721.61 1367.39,721.74C1369.81,721.86 1372.24,721.97 1374.69,722.08C1377.13,722.20 1379.59,722.30 1382.06,722.41C1384.53,722.51 1387.01,722.61 1389.51,722.70C1392.00,722.80 1394.51,722.89 1397.03,722.97C1399.55,723.06 1402.08,723.14 1404.62,723.22C1407.16,723.30 1409.71,723.38 1412.28,723.45C1414.85,723.53 1417.42,723.60 1420.01,723.67C1422.60,723.73 1425.20,723.80 1427.82,723.86C1430.43,723.92 1433.06,723.98 1435.69,724.04C1438.33,724.10 1440.98,724.15 1443.64,724.21C1446.30,724.26 1448.97,724.31 1451.65,724.36C1454.33,724.41 1457.03,724.45 1459.73,724.50C1462.44,724.54 1465.15,724.59 1467.88,724.63C1470.61,724.67 1473.35,724.71 1476.10,724.75C1478.85,724.79 1481.62,724.82 1484.39,724.86C1487.16,724.89 1489.95,724.93 1492.74,724.96C1495.54,724.99 1498.35,725.02 1501.17,725.05C1503.98,725.08 1506.81,725.11 1509.65,725.14C1512.49,725.17 1515.35,725.19 1518.21,725.22C1521.07,725.24 1523.94,725.27 1526.83,725.29C1529.71,725.31 1532.61,725.34 1535.52,725.36C1538.42,725.38 1541.34,725.40 1544.27,725.42C1547.20,725.44 1550.14,725.46 1553.08,725.48C1556.03,725.50 1559.00,725.51 1561.97,725.53C1564.94,725.55 1567.92,725.56 1570.91,725.58C1573.91,725.60 1576.91,725.61 1579.92,725.62C1582.94,725.64 1585.96,725.65 1589.00,725.67C1592.03,725.68 1595.08,725.69 1598.14,725.70C1601.19,725.72 1604.26,725.73 1607.34,725.74C1610.41,725.75 1613.51,725.76 1616.60,725.77" fill="none" stroke="#aaaaff" stroke-width="8.2"/>
<path d="M1111.1,519.3 L1137.2,500.3" stroke="#aaaaff" stroke-width="2.2"/>
<path d="M1112,635 L1171,554" stroke="#aaaa7f" stroke-width="2.2"/>
<text x="1140" y="504" font-size="30.25" text-anchor="start" font-weight="bold" fill="#aaaaff" stroke="#aaaaff" stroke-width="0.4">larger cost of movement</text>
<text x="1170" y="549.4" font-size="30.2" text-anchor="start" font-weight="bold" fill="#aaaa7f" stroke="#aaaa7f" stroke-width="0.4">smaller cost of movement</text>
<text x="1387" y="602.4" font-size="31.9" text-anchor="start" font-weight="normal" fill="#000" stroke="#000" stroke-width="0.35" transform="rotate(-3.46 1387 602.4)">same cost of time</text>
</svg>
</body></html>
